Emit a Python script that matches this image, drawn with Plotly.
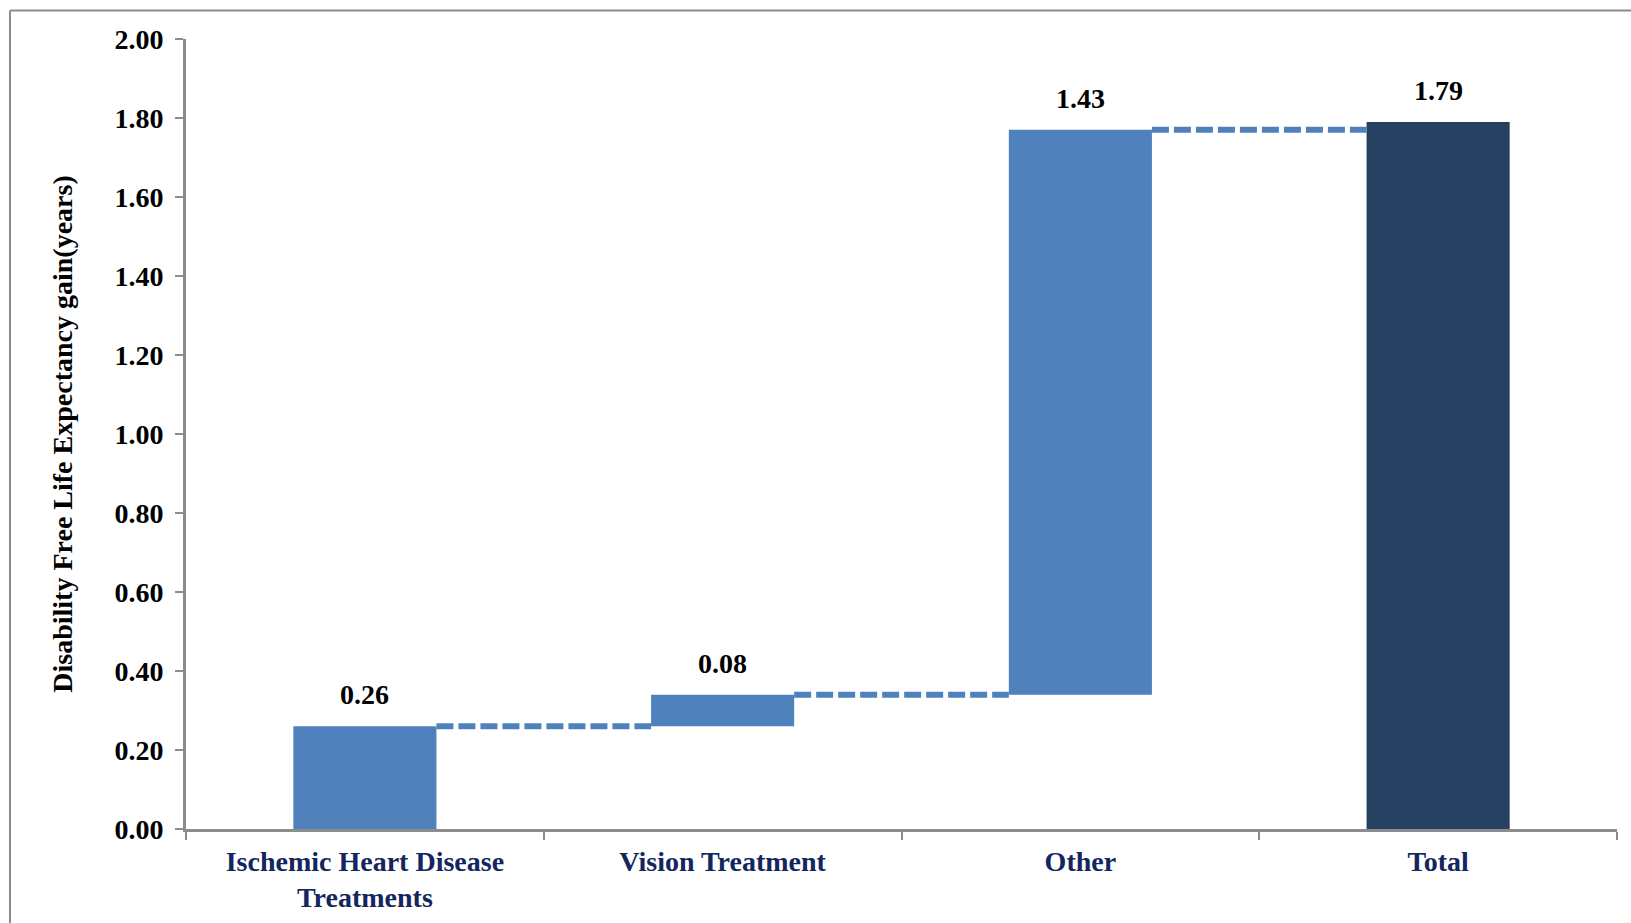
import plotly.graph_objects as go

# Contributions to disability free life expectancy gain (years)
categories = ["Ischemic Heart Disease<br>Treatments", "Vision Treatment", "Other", "Total"]
steps = [0.26, 0.08, 1.43]
total = 1.79
labels = ["0.26", "0.08", "1.43", "1.79"]

# waterfall bases / heights built from the step values
bases, heights, running = [], [], 0.0
for v in steps:
    bases.append(running)
    heights.append(v)
    running += v
bases.append(0.0)
heights.append(total)
tops = [b + h for b, h in zip(bases, heights)]

step_color = "#4F81BD"
total_color = "#264061"
font_family = "Liberation Serif, Times New Roman, serif"

fig = go.Figure()
fig.add_trace(go.Bar(
    x=categories,
    y=heights,
    base=bases,
    width=0.4,
    marker=dict(color=[step_color] * len(steps) + [total_color], line=dict(width=0)),
    hoverinfo="skip",
    showlegend=False,
))

# dashed connectors between consecutive bars (drawn on a hidden numeric axis)
level = 0.0
for i, v in enumerate(steps):
    level += v
    fig.add_trace(go.Scatter(
        x=[i + 0.2, i + 0.8],
        y=[level, level],
        xaxis="x2",
        mode="lines",
        line=dict(color=step_color, width=6, dash="17px,5px"),
        hoverinfo="skip",
        showlegend=False,
    ))

for cat, top, txt in zip(categories, tops, labels):
    fig.add_annotation(
        x=cat, y=top, text=txt, showarrow=False,
        yanchor="bottom", yshift=14,
        font=dict(family=font_family, size=28, color="black", weight="bold"),
    )

# chart frame
fig.add_shape(type="line", xref="paper", yref="paper", x0=-0.123, x1=1.1, y0=1.036, y1=1.036,
              line=dict(color="#8C8C8C", width=2))
fig.add_shape(type="line", xref="paper", yref="paper", x0=-0.123, x1=-0.123, y0=-0.2, y1=1.036,
              line=dict(color="#8C8C8C", width=2))

fig.update_layout(
    width=1631,
    height=923,
    margin=dict(l=186, r=14, t=39, b=94),
    paper_bgcolor="white",
    plot_bgcolor="white",
    bargap=0.6,
    font=dict(family=font_family, color="black"),
    xaxis=dict(
        type="category",
        tickson="boundaries",
        ticks="outside",
        ticklen=8,
        tickwidth=2,
        tickcolor="#8C8C8C",
        showline=True,
        linecolor="#8C8C8C",
        linewidth=3,
        showgrid=False,
        automargin=False,
        tickfont=dict(family=font_family, size=28, color="#14265E", weight="bold"),
        ticklabelstandoff=5,
        range=[-0.5, 3.5],
    ),
    xaxis2=dict(
        overlaying="x",
        range=[-0.5, 3.5],
        visible=False,
    ),
    yaxis=dict(
        range=[0, 2],
        dtick=0.2,
        tickformat=".2f",
        ticks="outside",
        ticklen=8,
        tickwidth=2,
        tickcolor="#8C8C8C",
        showline=True,
        linecolor="#8C8C8C",
        linewidth=3,
        showgrid=False,
        zeroline=False,
        automargin=False,
        tickfont=dict(family=font_family, size=28, color="black", weight="bold"),
        ticklabelstandoff=6,
        title=dict(
            text="Disability Free Life Expectancy gain(years)",
            font=dict(family=font_family, size=28, color="black", weight="bold"),
            standoff=34,
        ),
    ),
)

fig.write_html("out.html")
